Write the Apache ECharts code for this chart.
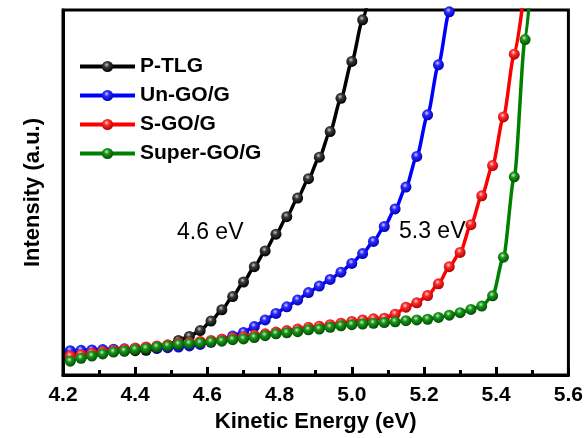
<!DOCTYPE html>
<html>
<head>
<meta charset="utf-8">
<script src="https://cdn.jsdelivr.net/npm/echarts@6/dist/echarts.min.js"></script>
<style>
  html, body { margin: 0; padding: 0; background: #fff; }
  #chart { width: 586px; height: 438px; }
</style>
</head>
<body>
<div id="chart"></div>
<script>
// kinetic energy grid (eV), one entry per marker
const energy = [4.22, 4.25, 4.28, 4.31, 4.34, 4.37, 4.40, 4.43, 4.46, 4.49, 4.52, 4.55, 4.58, 4.61, 4.64,
  4.67, 4.70, 4.73, 4.76, 4.79, 4.82, 4.85, 4.88, 4.91, 4.94, 4.97, 5.00, 5.03, 5.06, 5.09, 5.12, 5.15,
  5.18, 5.21, 5.24, 5.27, 5.30, 5.33, 5.36, 5.39, 5.42, 5.45, 5.48, 5.51];

// intensity (a.u.); last entries run past the top of the frame
const pTLG = [6.2, 6.3, 6.3, 6.4, 6.5, 6.6, 6.7, 6.8, 7.3, 8.2, 9.5, 10.6, 12.2, 14.8, 17.9, 21.5, 25.5,
  29.7, 34.0, 38.6, 43.4, 48.5, 53.8, 59.7, 66.7, 75.8, 85.9, 97.3, 111];
const unGO = [6.7, 6.8, 6.9, 7.0, 7.1, 7.2, 7.3, 7.4, 7.4, 7.5, 7.7, 8.0, 8.4, 9.0, 9.8, 10.7, 11.7,
  13.3, 15.1, 16.9, 18.7, 20.6, 22.6, 24.4, 26.2, 28.2, 30.6, 33.3, 36.6, 40.7, 45.5, 51.5, 59.9,
  71.3, 85.0, 99.5, 118];
const sGO = [5.2, 5.6, 6.0, 6.4, 6.8, 7.1, 7.4, 7.7, 8.0, 8.3, 8.7, 8.9, 9.2, 9.5, 9.8, 10.2, 10.5,
  10.9, 11.3, 11.8, 12.2, 12.6, 13.1, 13.4, 13.8, 14.2, 14.7, 15.1, 15.4, 15.6, 16.7, 18.6, 19.8,
  21.8, 25.0, 29.7, 33.6, 41.2, 49.1, 57.4, 70.7, 87.9, 107];
const superGO = [3.8, 4.6, 5.2, 5.8, 6.3, 6.6, 7.0, 7.3, 7.7, 8.0, 8.4, 8.6, 8.8, 9.1, 9.3, 9.7, 9.9,
  10.3, 10.8, 11.3, 11.6, 11.9, 12.4, 12.6, 13.1, 13.5, 13.8, 14.0, 14.2, 14.4, 14.6, 14.9, 15.1,
  15.3, 15.8, 16.4, 17.1, 18.0, 18.9, 21.7, 32.3, 54.3, 91.9, 127];

const names = ["P-TLG", "Un-GO/G", "S-GO/G", "Super-GO/G"];
const values = [pTLG, unGO, sGO, superGO];
const colors = ["#000000", "#0000ff", "#ff0000", "#008000"];
const shine = [
  ["#c8c8c8", "#3a3a3a", "#000000"],
  ["#d0d0ff", "#2b2bff", "#0000b0"],
  ["#ffd0d0", "#ff2b2b", "#b00000"],
  ["#c8eec8", "#1a961a", "#004d00"],
];

const font = "'Liberation Sans', Arial, sans-serif";

const ball = (i) => ({
  type: "radial",
  x: 0.42,
  y: 0.35,
  r: 0.65,
  colorStops: [
    { offset: 0, color: shine[i][0] },
    { offset: 0.35, color: shine[i][1] },
    { offset: 1, color: shine[i][2] },
  ],
});

const chart = echarts.init(document.getElementById("chart"));
const option = {
  animation: false,
  grid: {
    left: 63,
    right: 16,
    top: 10,
    bottom: 56,
    show: true,
    borderColor: "#000",
    borderWidth: 3,
  },
  legend: {
    orient: "vertical",
    left: 78,
    top: 56,
    padding: 0,
    itemWidth: 55,
    itemHeight: 14,
    itemGap: 8,
    data: names,
    lineStyle: { width: 4 },
    textStyle: { fontFamily: font, fontWeight: "bold", fontSize: 21, color: "#000" },
  },
  xAxis: {
    type: "value",
    min: 4.2,
    max: 5.6,
    interval: 0.2,
    name: "Kinetic Energy (eV)",
    nameLocation: "middle",
    nameGap: 35,
    nameTextStyle: { fontFamily: font, fontWeight: "bold", fontSize: 22, color: "#000" },
    axisLine: { lineStyle: { color: "#000", width: 3 } },
    axisTick: { inside: true, length: 8, lineStyle: { color: "#000", width: 3 } },
    minorTick: { show: true, splitNumber: 2, length: 5, lineStyle: { color: "#000", width: 3 } },
    splitLine: { show: false },
    axisLabel: {
      margin: 10,
      fontFamily: font,
      fontWeight: "bold",
      fontSize: 21,
      color: "#000",
      formatter: (v) => v.toFixed(1),
    },
  },
  yAxis: {
    type: "value",
    min: 0,
    max: 100,
    name: "Intensity (a.u.)",
    nameLocation: "middle",
    nameRotate: 90,
    nameGap: 19,
    nameTextStyle: { fontFamily: font, fontWeight: "bold", fontSize: 22, color: "#000" },
    axisLine: { show: true, lineStyle: { color: "#000", width: 3 } },
    axisTick: { show: false },
    axisLabel: { show: false },
    splitLine: { show: false },
  },
  graphic: [
    {
      type: "text",
      left: 177,
      top: 221,
      style: { text: "4.6 eV", fontFamily: font, fontSize: 23, fill: "#000" },
    },
    {
      type: "text",
      left: 399,
      top: 220,
      style: { text: "5.3 eV", fontFamily: font, fontSize: 23, fill: "#000" },
    },
  ],
  series: values.map((arr, i) => ({
    name: names[i],
    type: "line",
    data: arr.map((v, k) => [energy[k], v]),
    smooth: 0.25,
    smoothMonotone: "x",
    clip: true,
    symbol: "circle",
    symbolSize: 11,
    showAllSymbol: true,
    lineStyle: { color: colors[i], width: 3.5 },
    itemStyle: { color: ball(i), borderWidth: 0 },
    z: 2 + i,
  })),
};
chart.setOption(option);
</script>
</body>
</html>
